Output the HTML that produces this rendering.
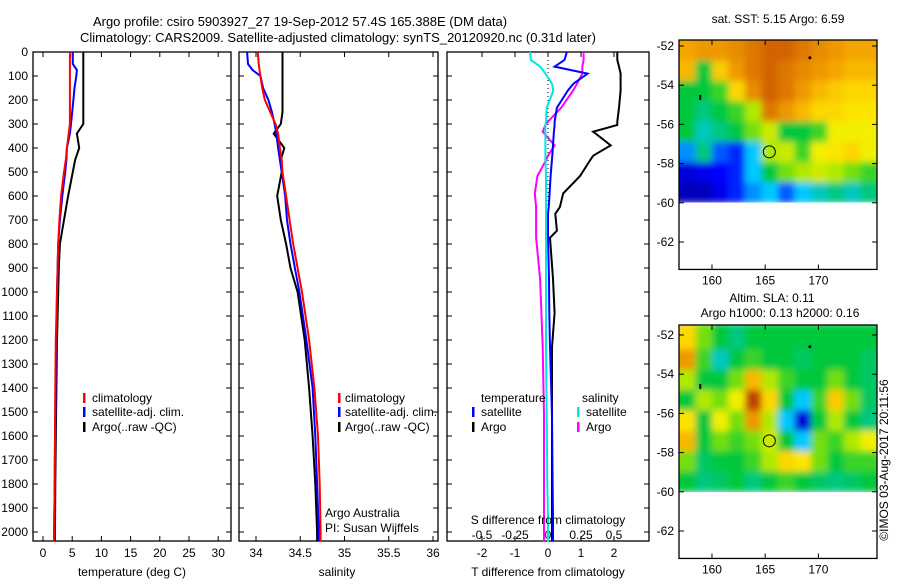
<!DOCTYPE html>
<html><head><meta charset="utf-8">
<style>
body{margin:0;background:#fff;}
svg{font-family:"Liberation Sans",sans-serif;font-size:12px;}
</style></head>
<body>
<svg id="chart" width="900" height="580" xmlns="http://www.w3.org/2000/svg">
<defs>
<filter id="blur" x="-5%" y="-5%" width="110%" height="110%"><feGaussianBlur stdDeviation="3.5"/></filter>
<clipPath id="clip1"><rect x="679" y="40" width="198" height="162.5"/></clipPath>
<clipPath id="clip2"><rect x="679" y="325" width="198" height="167"/></clipPath>
</defs>
<text x="300" y="26" text-anchor="middle" font-size="13">Argo profile: csiro 5903927_27 19-Sep-2012 57.4S 165.388E (DM data)</text>
<text x="338" y="42" text-anchor="middle" font-size="13">Climatology: CARS2009. Satellite-adjusted climatology: synTS_20120920.nc (0.31d later)</text>
<g id="g"></g>
</svg>
<script>
// ---- data ----
const depths = [0,50,75,100,150,200,250,300,340,400,450,500,600,700,800,900,1000,1200,1400,1600,1800,2000,2040];
const tempClim = [4.6,4.6,4.6,4.6,4.6,4.6,4.6,4.6,4.4,4.1,3.9,3.6,3.1,2.8,2.6,2.5,2.4,2.2,2.1,2.05,2.0,1.9,1.9];
const tempSat  = [5.1,5.1,5.8,5.7,5.4,5.2,5.0,4.8,4.6,4.1,4.0,3.8,3.3,2.9,2.6,2.5,2.4,2.3,2.15,2.05,2.0,1.9,1.9];
const tempArgo = [6.9,6.9,6.9,6.9,6.9,6.9,6.9,6.9,5.8,6.2,5.5,5.1,4.3,3.6,2.9,2.7,2.6,2.4,2.3,2.2,2.1,2.05,2.05];
const salClim = [34.02,34.03,34.04,34.05,34.07,34.1,34.16,34.22,34.25,34.27,34.29,34.3,34.34,34.38,34.42,34.47,34.52,34.6,34.66,34.7,34.72,34.73,34.73];
const salSat  = [33.9,33.91,33.96,34.05,34.08,34.14,34.18,34.21,34.23,34.25,34.27,34.29,34.33,34.35,34.39,34.44,34.49,34.57,34.64,34.67,34.69,34.71,34.71];
const salArgo = [34.3,34.3,34.3,34.3,34.3,34.3,34.3,34.28,34.2,34.32,34.28,34.29,34.24,34.28,34.34,34.39,34.47,34.55,34.6,34.64,34.67,34.69,34.69];
const diffDepths = [0,33,61,90,132,161,232,290,304,332,389,432,446,517,589,646,674,745,774,945,1087,1230,1515,1800,1942,2040];
const dTsat  = [0.57,0.5,0.2,1.2,0.77,0.6,0.27,0.2,0.2,0.18,0.15,0.13,0.12,0.08,0.05,0.02,0.0,0.0,0.0,0.03,0.04,0.06,0.12,0.14,0.15,0.15];
const dTargo = [2.1,2.1,2.15,2.2,2.2,2.2,2.15,2.1,2.1,1.37,1.9,1.37,1.3,0.97,0.46,0.36,0.22,0.27,0.06,0.15,0.2,0.12,0.12,0.12,0.12,0.12];
const dSsat  = [-0.136,-0.13,-0.06,-0.02,0.03,0.04,-0.01,-0.015,-0.02,-0.02,-0.02,-0.02,-0.02,-0.015,-0.015,-0.015,-0.015,-0.015,-0.015,-0.015,-0.015,-0.015,-0.01,-0.005,0,0];
const dSargo = [0.27,0.27,0.26,0.26,0.22,0.19,0.1,0.0,-0.02,-0.04,0.05,0.0,-0.01,-0.08,-0.1,-0.09,-0.09,-0.09,-0.09,-0.06,-0.05,-0.04,-0.03,-0.03,-0.03,-0.03];
const depthTicks = [0,100,200,300,400,500,600,700,800,900,1000,1100,1200,1300,1400,1500,1600,1700,1800,1900,2000];
const tempTicks = [0,5,10,15,20,25,30];
const salTicks = [34,34.5,35,35.5,36];
const salTickLabels = ["34","34.5","35","35.5","36"];
const dTTicks = [-2,-1,0,1,2];
const dSTicks = [-0.5,-0.25,0,0.25,0.5];
const dSTickLabels = ["-0.5","-0.25","0","0.25","0.5"];
const latTicks = [-52,-54,-56,-58,-60,-62];
const lonTicks = [160,165,170];
const sstGrid = [
[0.78,0.8,0.8,0.82,0.85,0.88,0.88,0.85,0.82,0.8,0.78,0.78],
[0.75,0.45,0.72,0.8,0.85,0.88,0.85,0.82,0.8,0.78,0.75,0.75],
[0.45,0.45,0.5,0.7,0.82,0.88,0.85,0.8,0.75,0.72,0.7,0.7],
[0.45,0.4,0.45,0.5,0.6,0.85,0.8,0.75,0.7,0.7,0.68,0.68],
[0.45,0.35,0.4,0.45,0.55,0.62,0.45,0.45,0.5,0.65,0.65,0.65],
[0.25,0.4,0.2,0.15,0.3,0.6,0.62,0.5,0.65,0.68,0.7,0.65],
[0.08,0.1,0.12,0.15,0.3,0.45,0.55,0.6,0.62,0.6,0.55,0.5],
[0.05,0.05,0.1,0.15,0.25,0.3,0.2,0.3,0.35,0.4,0.35,0.4]];
const slaGrid = [
[0.7,0.55,0.45,0.4,0.45,0.45,0.45,0.45,0.45,0.45,0.45,0.45],
[0.8,0.5,0.35,0.45,0.5,0.45,0.45,0.42,0.45,0.45,0.45,0.42],
[0.6,0.45,0.45,0.55,0.75,0.6,0.5,0.45,0.45,0.55,0.45,0.42],
[0.45,0.6,0.55,0.65,0.92,0.7,0.45,0.3,0.5,0.72,0.55,0.42],
[0.68,0.45,0.65,0.55,0.8,0.6,0.3,0.08,0.45,0.6,0.45,0.4],
[0.75,0.45,0.55,0.5,0.55,0.62,0.45,0.3,0.55,0.5,0.6,0.65],
[0.55,0.42,0.45,0.45,0.5,0.6,0.7,0.68,0.55,0.45,0.5,0.5],
[0.45,0.4,0.42,0.45,0.4,0.45,0.5,0.45,0.42,0.4,0.42,0.45]];
const floatLon = 165.388, floatLat = -57.4;

// ---- axis functions ----
const NS="http://www.w3.org/2000/svg";
const G=document.getElementById('g');
function el(tag,attrs,parent){const e=document.createElementNS(NS,tag);for(const k in attrs)e.setAttribute(k,attrs[k]);(parent||G).appendChild(e);return e;}
const TOP=52, BOT=541;
const yD = d => TOP + d*0.24;
const xT = t => 43 + t*5.84;
const xS = s => 256 + (s-34)*88.5;
const xDT = t => 548 + t*33;
const xDS = s => 548 + s*132;

function frame(name,x0,x1,y0,y1){
  const r=el('rect',{x:x0,y:y0,width:x1-x0,height:y1-y0,fill:'none',stroke:'#000','stroke-width':1.3});
  
  
}
function line(name,xs,ds,xf,color,w){
  const pts=xs.map((v,i)=>xf(v).toFixed(1)+','+yD(ds[i]).toFixed(1)).join(' ');
  const p=el('polyline',{points:pts,fill:'none',stroke:color,'stroke-width':w||2,'stroke-linejoin':'miter'});
  
  
}
function text(name,x,y,s,anchor,extra){
  const t=el('text',Object.assign({x:x,y:y,'text-anchor':anchor||'start'},extra||{}));
  t.textContent=s;
  
  
  return t;
}
function xticks(ticks,labels,xf,x0,x1,ly,name){
  ticks.forEach((t,i)=>{
    const x=xf(t);
    el('line',{x1:x,x2:x,y1:TOP,y2:TOP+5,stroke:'#000'});
    el('line',{x1:x,x2:x,y1:BOT,y2:BOT-5,stroke:'#000'});
    text(name,x,ly,labels[i],'middle');
  });
}
function yticksIn(x0,x1){
  depthTicks.forEach(d=>{
    el('line',{x1:x0,x2:x0+5,y1:yD(d),y2:yD(d),stroke:'#000'});
    el('line',{x1:x1,x2:x1-5,y1:yD(d),y2:yD(d),stroke:'#000'});
  });
}
function legendMark(x,y,color){el('rect',{x:x,y:y-9,width:2.5,height:10,fill:color});}

// Panel 1: temperature
frame('temperature-panel-frame',33,231,TOP,BOT);
yticksIn(33,231);
depthTicks.forEach(d=>text('depth-tick-label',28,yD(d)+4,String(d),'end'));
xticks(tempTicks,tempTicks.map(String),xT,33,231,557,'temperature-tick-label');
text('x-axis-title-temperature',132,576,'temperature (deg C)','middle');
line('temperature-argo-line',tempArgo,depths,xT,'#000');
line('temperature-sat-line',tempSat,depths,xT,'#0000ff');
line('temperature-clim-line',tempClim,depths,xT,'#ff0000');
legendMark(83,402,'#ff0000');text('legend-climatology',92,402,'climatology');
legendMark(83,416,'#0000ff');text('legend-satellite-adj',92,416,'satellite-adj. clim.');
legendMark(83,431,'#000');text('legend-argo',92,431,'Argo(..raw -QC)');

// Panel 2: salinity
frame('salinity-panel-frame',239,438,TOP,BOT);
yticksIn(239,438);
xticks(salTicks,salTickLabels,xS,239,438,557,'salinity-tick-label');
text('x-axis-title-salinity',337,576,'salinity','middle');
line('salinity-argo-line',salArgo,depths,xS,'#000');
line('salinity-sat-line',salSat,depths,xS,'#0000ff');
line('salinity-clim-line',salClim,depths,xS,'#ff0000');
legendMark(338,402,'#ff0000');text('legend-climatology-s',345,402,'climatology');
legendMark(338,416,'#0000ff');text('legend-satellite-adj-s',345,416,'satellite-adj. clim.');
legendMark(338,431,'#000');text('legend-argo-s',345,431,'Argo(..raw -QC)');
text('credit-argo-australia',325,517,'Argo Australia');
text('credit-pi',325,532,'PI: Susan Wijffels');

// Panel 3: differences
frame('difference-panel-frame',447,649,TOP,BOT);
yticksIn(447,649);
el('line',{x1:548,x2:548,y1:TOP,y2:yD(700),stroke:'#000','stroke-dasharray':'1,3'});
dTTicks.forEach(t=>{const x=xDT(t);el('line',{x1:x,x2:x,y1:BOT,y2:BOT-5,stroke:'#000'});text('t-diff-tick-label',x,557,String(t),'middle');});
dSTicks.forEach((t,i)=>{const x=xDS(t);el('line',{x1:x,x2:x,y1:TOP,y2:TOP+5,stroke:'#000'});text('s-diff-tick-label',x,539,dSTickLabels[i],'middle');});
line('t-diff-argo-line',dTargo,diffDepths,xDT,'#000');
line('s-diff-argo-line',dSargo,diffDepths,xDS,'#ff00ff');
line('t-diff-sat-line',dTsat,diffDepths,xDT,'#0000ff');
line('s-diff-sat-line',dSsat,diffDepths,xDS,'#00e5e5');
text('s-diff-axis-title',548,524,'S difference from climatology','middle');
text('t-diff-axis-title',548,576,'T difference from climatology','middle');
text('legend-temperature-header',481,402,'temperature');
legendMark(472,416,'#0000ff');text('legend-t-satellite',481,416,'satellite');
legendMark(472,431,'#000');text('legend-t-argo',481,431,'Argo');
text('legend-salinity-header',582,402,'salinity');
legendMark(577,416,'#00e5e5');text('legend-s-satellite',586,416,'satellite');
legendMark(577,431,'#ff00ff');text('legend-s-argo',586,431,'Argo');

// Maps
function jet(v){
  const stops=[[0,[0,0,140]],[0.12,[0,0,255]],[0.3,[0,200,255]],[0.45,[0,200,60]],[0.58,[150,230,0]],[0.66,[255,240,0]],[0.78,[245,165,0]],[0.88,[210,100,0]],[1,[140,0,0]]];
  for(let i=1;i<stops.length;i++){if(v<=stops[i][0]){const a=stops[i-1],b=stops[i];const f=(v-a[0])/(b[0]-a[0]);return 'rgb('+a[1].map((c,j)=>Math.round(c+(b[1][j]-c)*f)).join(',')+')';}}
  return 'rgb(140,0,0)';
}
function map(name,grid,top,lat0y,clip){
  const xL = lon => 679 + (lon-156.9)*10.64;
  const yL = lat => lat0y + (-52-lat)*19.6;
  const lonStep=(175.5-156.9)/grid[0].length;
  const latTopEdge=-51.7, latStep=(60-51.7)/grid.length;
  const outer=el('g',{'clip-path':'url(#'+clip+')'});
  const cg=el('g',{filter:'url(#blur)'},outer);
  grid.forEach((row,r)=>row.forEach((v,c)=>{
    const y1=yL(latTopEdge-r*latStep)-(r===0?6:0), y2=yL(latTopEdge-(r+1)*latStep);
    const x1=xL(156.9+c*lonStep)-(c===0?6:0), x2=xL(156.9+(c+1)*lonStep)+(c===row.length-1?6:0);
    const cell=el('rect',{x:x1.toFixed(1),y:y1.toFixed(1),width:(x2-x1+0.5).toFixed(1),height:(y2-y1+0.5).toFixed(1),fill:jet(v)},cg);
    
    
  }));
  const bottom=yL(-63.4);
  frame(name+'-frame',679,877,top,bottom);
  latTicks.forEach(l=>{const y=yL(l);el('line',{x1:679,x2:684,y1:y,y2:y,stroke:'#000'});el('line',{x1:877,x2:872,y1:y,y2:y,stroke:'#000'});text(name+'-lat-label',674,y+4,String(l),'end');});
  lonTicks.forEach(l=>{const x=xL(l);el('line',{x1:x,x2:x,y1:bottom,y2:bottom-5,stroke:'#000'});el('line',{x1:x,x2:x,y1:top,y2:top+5,stroke:'#000'});text(name+'-lon-label',x,bottom+15,String(l),'middle');});
  const m=el('circle',{cx:xL(floatLon),cy:yL(floatLat),r:6,fill:'none',stroke:'#000','stroke-width':1});
  
  
  el('circle',{cx:xL(169.2),cy:yL(-52.6),r:1.5,fill:'#000'});
  el('rect',{x:xL(158.9)-1,y:yL(-54.6)-2,width:2,height:5,fill:'#000'});
}
map('sst-map',sstGrid,40,46,'clip1');
text('sst-map-title',778,23,'sat. SST: 5.15 Argo: 6.59','middle');
map('sla-map',slaGrid,325,335,'clip2');
text('sla-map-title-1',772,302,'Altim. SLA: 0.11','middle');
text('sla-map-title-2',780,317,'Argo h1000: 0.13 h2000: 0.16','middle');
text('imos-credit',888,460,'©IMOS 03-Aug-2017 20:11:56','middle',{transform:'rotate(-90 888 460)'});
</script>
</body></html>
